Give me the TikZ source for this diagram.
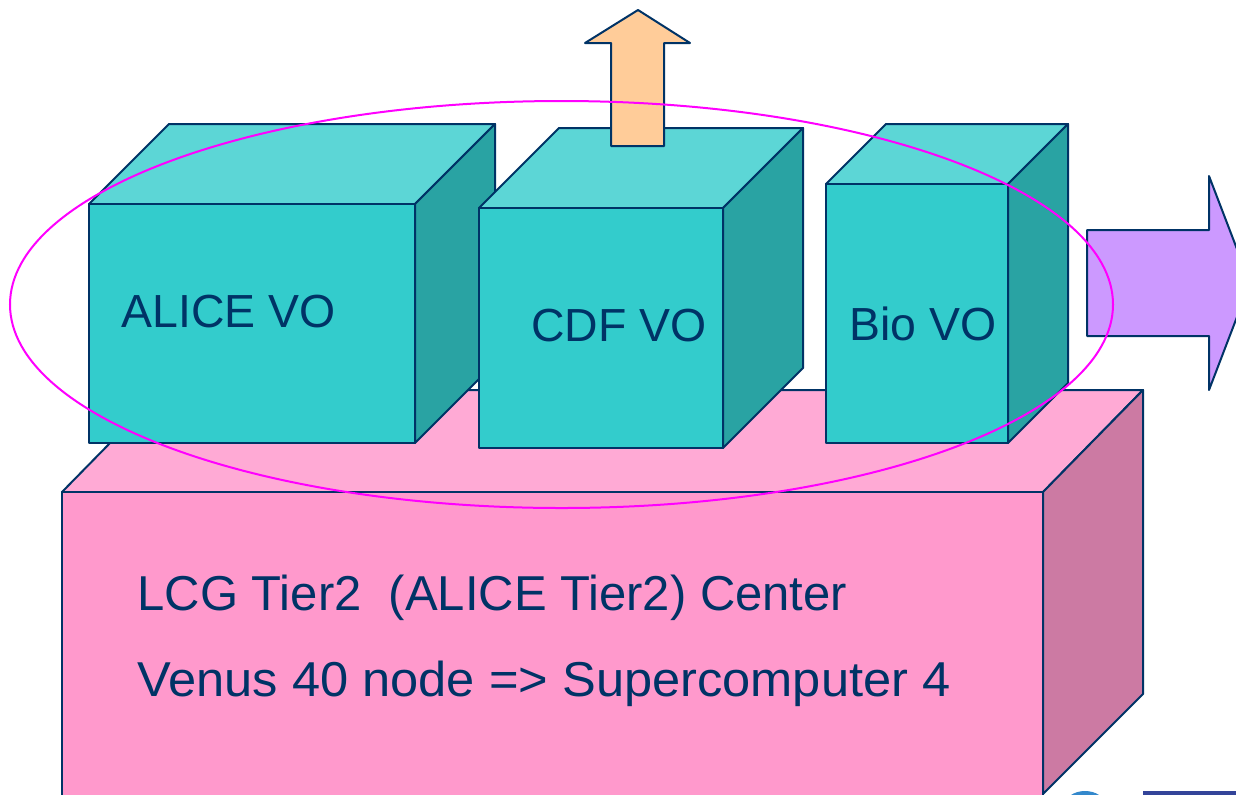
\documentclass[tikz,border=0pt]{standalone}
\usepackage{fontspec}
\setmainfont{Liberation Sans}
\definecolor{navy}{HTML}{003366}
\definecolor{cyfront}{HTML}{33CCCC}
\definecolor{cytop}{HTML}{5CD6D6}
\definecolor{cyside}{HTML}{29A3A3}
\definecolor{pkfront}{HTML}{FF99CC}
\definecolor{pktop}{HTML}{FFAAD5}
\definecolor{pkside}{HTML}{CC7AA3}
\definecolor{orarrow}{HTML}{FFCC99}
\definecolor{purarrow}{HTML}{CC99FF}
\definecolor{magline}{HTML}{FF00FF}
\definecolor{barblue}{HTML}{334499}
\definecolor{arcblue}{HTML}{3388CC}
\tikzset{
  face/.style={draw=navy, line width=1pt, line join=round},
  boxlabel/.style={anchor=base west, inner sep=0pt, text=navy, font=\fontsize{23.2pt}{28pt}\selectfont},
  baselabel/.style={anchor=base west, inner sep=0pt, text=navy, font=\fontsize{24.5pt}{29pt}\selectfont},
}
\begin{document}
\begin{tikzpicture}[x=0.5pt,y=-0.5pt]
\useasboundingbox (0,0) rectangle (1236,794);
\clip (0,0) rectangle (1236,794);
\fill[white] (0,0) rectangle (1236,794);
% pink base box
\filldraw[face, fill=pktop] (62,492) -- (162,390) -- (1143,390) -- (1043,492) -- cycle;
\filldraw[face, fill=pkside] (1043,492) -- (1143,390) -- (1143,694) -- (1043,794) -- cycle;
\filldraw[face, fill=pkfront] (62,492) rectangle (1043,799);
% ALICE box
\filldraw[face, fill=cytop] (89,204) -- (169,124) -- (495,124) -- (415,204) -- cycle;
\filldraw[face, fill=cyside] (415,204) -- (495,124) -- (495,363) -- (415,443) -- cycle;
\filldraw[face, fill=cyfront] (89,204) rectangle (415,443);
% CDF box
\filldraw[face, fill=cytop] (479,208) -- (559,128) -- (803,128) -- (723,208) -- cycle;
\filldraw[face, fill=cyside] (723,208) -- (803,128) -- (803,368) -- (723,448) -- cycle;
\filldraw[face, fill=cyfront] (479,208) rectangle (723,448);
% Bio box
\filldraw[face, fill=cytop] (826,184) -- (886,124) -- (1068,124) -- (1008,184) -- cycle;
\filldraw[face, fill=cyside] (1008,184) -- (1068,124) -- (1068,383) -- (1008,443) -- cycle;
\filldraw[face, fill=cyfront] (826,184) rectangle (1008,443);
% up arrow
\filldraw[face, fill=orarrow] (611,146) -- (611,43) -- (585,43) -- (638,10) -- (690,43) -- (664,43) -- (664,146) -- cycle;
% right arrow
\filldraw[face, fill=purarrow] (1087,230) -- (1209,230) -- (1209,176) -- (1250,283) -- (1209,390) -- (1209,336) -- (1087,336) -- cycle;
% labels
\node[boxlabel] (alice) at (121,327) {ALICE VO};
\node[boxlabel] (cdf) at (531,341) {CDF VO};
\node[boxlabel] (bio) at (849,340) {Bio VO};
\node[baselabel] (lcg) at (137,610) {LCG Tier2\ \ (ALICE Tier2) Center};
\node[baselabel] (venus) at (137,696) {\scalebox{1.033}[1]{Venus 40 node => Supercomputer 4}};
% ellipse
\draw[magline, line width=1pt] (561.5,304.5) ellipse [x radius=551.5, y radius=203.5];
% cut-off elements at the bottom edge
\fill[arcblue] (1085,805) ellipse [x radius=20, y radius=14];
\fill[barblue] (1143,791) rectangle (1236,800);
\end{tikzpicture}
\end{document}
